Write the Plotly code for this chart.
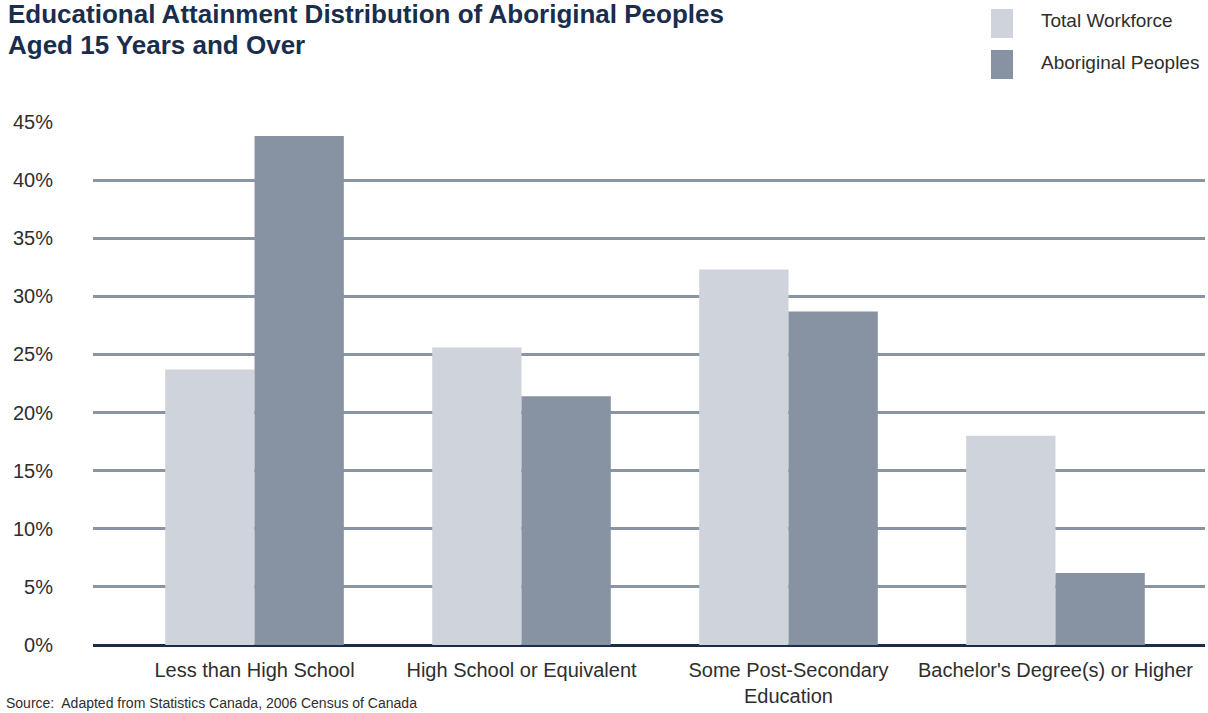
import plotly.graph_objects as go

# ---- data ----
categories = [
    "Less than High School",
    "High School or Equivalent",
    "Some Post-Secondary<br>Education",
    "Bachelor's Degree(s) or Higher",
]
total_workforce = [23.7, 25.6, 32.3, 18.0]
aboriginal_peoples = [43.8, 21.4, 28.7, 6.2]
series_names = ["Total Workforce", "Aboriginal Peoples"]
y_tick_values = [0, 5, 10, 15, 20, 25, 30, 35, 40, 45]
y_tick_labels = [f"{v}%" for v in y_tick_values]
title_lines = ["Educational Attainment Distribution of Aboriginal Peoples",
               "Aged 15 Years and Over"]
source_text = "Source:  Adapted from Statistics Canada, 2006 Census of Canada"

# ---- style ----
W, H = 1208, 713
L, R, T, B = 93, 3, 122, 68
LIGHT = "#cfd4dc"
DARK = "#8793a3"
NAVY = "#1b2d4d"
GRID = "#8a95a4"
TXT = "#2e2e2e"
SANS = "Liberation Sans, Arial, Helvetica, sans-serif"

plot_w = W - L - R
plot_h = H - T - B


def px_x(x):
    return (x - L) / plot_w


def px_y(y):
    return (H - B - y) / plot_h


fig = go.Figure()
fig.add_trace(go.Bar(x=categories, y=total_workforce, name=series_names[0],
                     marker=dict(color=LIGHT, line=dict(width=0))))
fig.add_trace(go.Bar(x=categories, y=aboriginal_peoples, name=series_names[1],
                     marker=dict(color=DARK, line=dict(width=0))))

annotations = []
# title (two lines)
TS = 26
for line, base in zip(title_lines, (23.5, 54)):
    annotations.append(dict(text=f"<b>{line}</b>", xref="paper", yref="paper",
                            x=px_x(7), y=px_y(base - 0.35 * TS), xanchor="left",
                            yanchor="middle", showarrow=False, borderpad=0,
                            font=dict(family=SANS, size=TS, color=NAVY)))
# source
annotations.append(dict(text=source_text, xref="paper", yref="paper",
                        x=px_x(4), y=px_y(712.5), xanchor="left", yanchor="bottom",
                        showarrow=False, font=dict(family=SANS, size=14, color=TXT)))

# manual legend
shapes = []
legend_items = [(series_names[0], LIGHT, 9, 38, 21),
                (series_names[1], DARK, 50, 79, 63)]
for name, col, y0, y1, yc in legend_items:
    shapes.append(dict(type="rect", xref="paper", yref="paper",
                       x0=px_x(991), x1=px_x(1013), y0=px_y(y1), y1=px_y(y0),
                       fillcolor=col, line=dict(width=0)))
    annotations.append(dict(text=name, xref="paper", yref="paper",
                            x=px_x(1039), y=px_y(yc), xanchor="left", yanchor="middle",
                            showarrow=False, font=dict(family=SANS, size=19, color=TXT)))

fig.update_layout(
    width=W, height=H, autosize=False,
    margin=dict(l=L, r=R, t=T, b=B, pad=0),
    paper_bgcolor="white", plot_bgcolor="white",
    barmode="group", bargap=0.331, bargroupgap=0,
    showlegend=False,
    annotations=annotations,
    shapes=shapes,
    xaxis=dict(
        type="category", range=[-0.605, 3.56],
        showgrid=False, showline=False, zeroline=False,
        ticks="", ticklabelstandoff=11,
        tickfont=dict(family=SANS, size=20, color=TXT),
    ),
    yaxis=dict(
        range=[0, 45], tickvals=y_tick_values, ticktext=y_tick_labels,
        showgrid=True, gridcolor=GRID, gridwidth=2.5,
        zeroline=True, zerolinecolor=NAVY, zerolinewidth=3,
        showline=False, ticks="", ticklabelstandoff=39,
        tickfont=dict(family=SANS, size=20, color=TXT),
    ),
)

fig.write_html("out.html")
